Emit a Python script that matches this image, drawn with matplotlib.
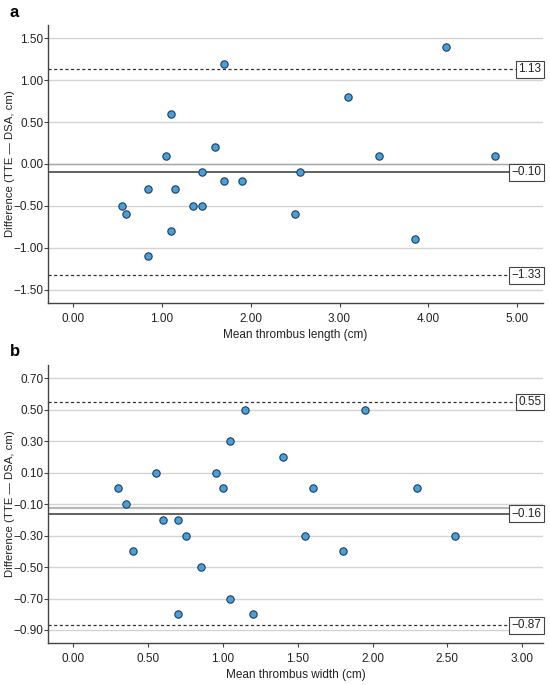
import matplotlib
matplotlib.use("Agg")
import matplotlib.pyplot as plt

plt.rcParams['font.family'] = ['Liberation Sans', 'DejaVu Sans']

# Panel a: thrombus length
len_mean = [0.55, 0.60, 0.85, 0.85, 1.05, 1.10, 1.10, 1.15, 1.35, 1.45, 1.45,
            1.60, 1.70, 1.70, 1.90, 2.50, 2.55, 3.10, 3.45, 3.85, 4.20, 4.75]
len_diff = [-0.50, -0.60, -0.30, -1.10, 0.10, 0.60, -0.80, -0.30, -0.50, -0.10, -0.50,
            0.20, 1.20, -0.20, -0.20, -0.60, -0.10, 0.80, 0.10, -0.90, 1.40, 0.10]
len_bias = -0.10
len_upper = 1.13
len_lower = -1.33
len_yticks = [-1.50, -1.00, -0.50, 0.00, 0.50, 1.00, 1.50]
len_xticks = [0.00, 1.00, 2.00, 3.00, 4.00, 5.00]

# Panel b: thrombus width
wid_mean = [0.30, 0.35, 0.40, 0.55, 0.60, 0.70, 0.70, 0.75, 0.85, 0.95, 1.00,
            1.05, 1.05, 1.15, 1.20, 1.40, 1.55, 1.60, 1.80, 1.95, 2.30, 2.55]
wid_diff = [0.00, -0.10, -0.40, 0.10, -0.20, -0.20, -0.80, -0.30, -0.50, 0.10, 0.00,
            0.30, -0.70, 0.50, -0.80, 0.20, -0.30, 0.00, -0.40, 0.50, 0.00, -0.30]
wid_bias = -0.16
wid_upper = 0.55
wid_lower = -0.87
wid_yticks = [-0.90, -0.70, -0.50, -0.30, -0.10, 0.10, 0.30, 0.50, 0.70]
wid_xticks = [0.00, 0.50, 1.00, 1.50, 2.00, 2.50, 3.00]
wid_extra_line = -0.125

fig = plt.figure(figsize=(5.5, 6.85), dpi=100)
ax_a = fig.add_axes([0.0873, 0.5577, 0.9, 0.4058])
ax_b = fig.add_axes([0.0873, 0.0613, 0.9, 0.4057])

def style(ax, xt, yt, xlim, ylim, xlabel):
    ax.set_xlim(*xlim)
    ax.set_ylim(*ylim)
    ax.set_xticks(xt)
    ax.set_xticklabels([f"{v:.2f}" for v in xt])
    ax.set_yticks(yt)
    ax.set_yticklabels([f"{v:.2f}".replace('-', '\u2212') for v in yt])
    for y in yt:
        ax.axhline(y, color='#d4d4d4', lw=1.0, zorder=0)
    for s in ['top', 'right']:
        ax.spines[s].set_visible(False)
    for s in ['left', 'bottom']:
        ax.spines[s].set_color('#444444')
        ax.spines[s].set_linewidth(1.0)
    ax.tick_params(axis='both', labelsize=8.5, colors='#444444', labelcolor='#222222',
                   length=3, width=0.8, direction='out')
    ax.tick_params(axis='y', pad=0.3)
    ax.tick_params(axis='x', pad=4)
    ax.set_xlabel(xlabel, fontsize=8.5, color='#222222', labelpad=3)
    ax.set_ylabel('Difference (TTE \u2014 DSA, cm)', fontsize=8.2, color='#222222')
    ax.yaxis.set_label_coords(-0.067, 0.5)

def limits(ax, bias, upper, lower):
    ax.axhline(upper, color='#333333', lw=0.9, ls=(0, (2.5, 2)), zorder=1)
    ax.axhline(lower, color='#333333', lw=0.9, ls=(0, (2.5, 2)), zorder=1)
    ax.axhline(bias, color='#555555', lw=1.3, zorder=1)
    for v in (upper, bias, lower):
        ax.text(0.997, v, f"{v:.2f}".replace('-', '\u2212'), transform=ax.get_yaxis_transform(),
                ha='right', va='center', fontsize=8.5, color='#222222', zorder=5,
                bbox=dict(boxstyle='square,pad=0.2', fc='white', ec='#444444', lw=0.8))

# Panel a
style(ax_a, len_xticks, len_yticks, (-0.28, 5.29), (-1.66, 1.66), 'Mean thrombus length (cm)')
ax_a.axhline(0.0, color='#a8a8a8', lw=1.0, zorder=0)
limits(ax_a, len_bias, len_upper, len_lower)
ax_a.scatter(len_mean, len_diff, s=28, c='#4a9fd8', edgecolors='#1d3e5e', linewidths=0.8, zorder=4)

# Panel b
style(ax_b, wid_xticks, wid_yticks, (-0.17, 3.14), (-0.983, 0.785), 'Mean thrombus width (cm)')
ax_b.axhline(wid_extra_line, color='#b8b8b8', lw=1.6, zorder=0)
limits(ax_b, wid_bias, wid_upper, wid_lower)
ax_b.scatter(wid_mean, wid_diff, s=28, c='#4a9fd8', edgecolors='#1d3e5e', linewidths=0.8, zorder=4)

fig.text(0.018, 0.982, 'a', fontsize=12, fontweight='bold', ha='left', va='center')
fig.text(0.018, 0.487, 'b', fontsize=12, fontweight='bold', ha='left', va='center')

fig.savefig('out.png', dpi=100)
